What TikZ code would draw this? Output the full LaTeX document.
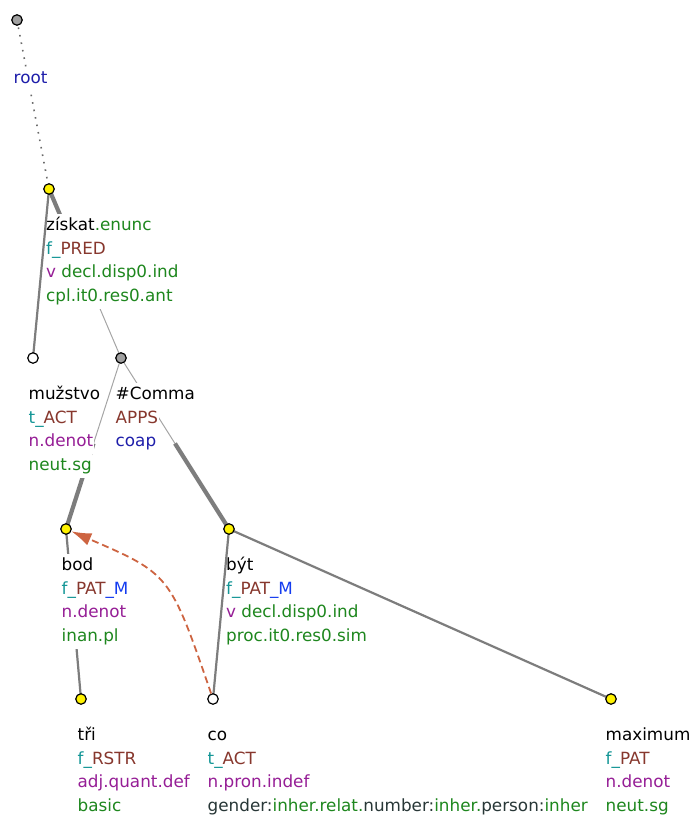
\documentclass[tikz,border=0pt]{standalone}
\usepackage{fontspec}
\setmainfont{DejaVu Sans}
\usetikzlibrary{arrows.meta,calc}
\definecolor{cGreen}{RGB}{30,135,30}
\definecolor{cTeal}{RGB}{20,150,150}
\definecolor{cBrown}{RGB}{135,55,45}
\definecolor{cBlue}{RGB}{20,60,240}
\definecolor{cPurp}{RGB}{150,30,150}
\definecolor{cNavy}{RGB}{30,30,170}
\definecolor{cDark}{RGB}{40,55,55}
\definecolor{cEdge}{RGB}{125,125,125}
\definecolor{cDot}{RGB}{105,105,105}
\definecolor{cThin}{RGB}{165,165,165}
\definecolor{cGray}{RGB}{160,160,160}
\definecolor{cCoref}{RGB}{205,100,65}
\newcommand{\fpre}{\textcolor{cTeal}{f\_}}
\newcommand{\tpre}{\textcolor{cTeal}{t\_}}
\newcommand{\fun}[1]{\textcolor{cBrown}{#1}}
\newcommand{\grm}[1]{\textcolor{cGreen}{#1}}
\newcommand{\sem}[1]{\textcolor{cPurp}{#1}}
\newcommand{\memb}{\textcolor{cBlue}{\_M}}
\tikzset{
  x=1pt, y=-1pt,
  lbl/.style={anchor=base west, fill=white, inner xsep=0.5pt, inner ysep=0pt,
    text height=16.5pt, text depth=7.2pt, font=\fontsize{16.8}{20}\selectfont},
  tnode/.style={circle, draw=black, line width=1.2pt, minimum size=10.5pt, inner sep=0pt},
  ynode/.style={tnode, fill=yellow},
  wnode/.style={tnode, fill=white},
  gnode/.style={tnode, fill=cGray},
  edge/.style={cEdge, line width=2.2pt},
  thickhalf/.style={cEdge, line width=4.2pt},
  thinhalf/.style={cThin, line width=1pt},
  rootedge/.style={cDot, line width=1.6pt, dash pattern=on 1.6pt off 6pt},
  coref/.style={cCoref, line width=1.8pt, dash pattern=on 7pt off 4pt,
    -{Latex[length=20pt,width=13pt]}},
}
\begin{document}
\begin{tikzpicture}
\useasboundingbox (0,0) rectangle (689,816);
% tree node positions
\coordinate (root) at (17,20);
\coordinate (zi) at (49,189);
\coordinate (mu) at (33,358);
\coordinate (cm) at (121,358);
\coordinate (bod) at (66,529);
\coordinate (byt) at (229,529);
\coordinate (tri) at (81,699);
\coordinate (co) at (213,699);
\coordinate (max) at (611,699);
\coordinate (mA) at ($(zi)!0.5!(cm)$);
\coordinate (mB) at ($(cm)!0.5!(bod)$);
\coordinate (mC) at ($(cm)!0.5!(byt)$);
% edges hidden behind labels
\draw[rootedge] (root) -- (zi);
\draw[thickhalf] (zi) -- (mA);
\draw[thinhalf] (mA) -- (cm);
\draw[thinhalf] (cm) -- (mB);
\draw[thickhalf] (mB) -- (bod);
\draw[thinhalf] (cm) -- (mC);
\draw[thickhalf] (mC) -- (byt);
\draw[edge] (bod) -- (tri);
% labels
\node[lbl] (rL) at (13,84) {\textcolor{cNavy}{root}};
\node[lbl] (zA) at (45.5,230.5) {získat\grm{.enunc}};
\node[lbl] (zB) at (45.5,254.2) {\fpre\fun{PRED}};
\node[lbl] (zC) at (45.5,277.9) {\sem{v} \grm{decl.disp0.ind}};
\node[lbl] (zD) at (45.5,301.6) {\grm{cpl.it0.res0.ant}};
\node[lbl] (muA) at (28,399.5) {mužstvo};
\node[lbl] (muB) at (28,423.2) {\tpre\fun{ACT}};
\node[lbl] (muC) at (28,446.9) {\sem{n.denot}};
\node[lbl] (muD) at (28,470.6) {\grm{neut.sg}};
\node[lbl] (cmA) at (115,399.5) {\#Comma};
\node[lbl] (cmB) at (115,423.2) {\fun{APPS}};
\node[lbl] (cmC) at (115,446.9) {\textcolor{cNavy}{coap}};
\node[lbl] (bA) at (61,570.5) {bod};
\node[lbl] (bB) at (61,594.2) {\fpre\fun{PAT}\memb};
\node[lbl] (bC) at (61,617.9) {\sem{n.denot}};
\node[lbl] (bD) at (61,641.6) {\grm{inan.pl}};
\node[lbl] (yA) at (225.5,570.5) {být};
\node[lbl] (yB) at (225.5,594.2) {\fpre\fun{PAT}\memb};
\node[lbl] (yC) at (225.5,617.9) {\sem{v} \grm{decl.disp0.ind}};
\node[lbl] (yD) at (225.5,641.6) {\grm{proc.it0.res0.sim}};
\node[lbl] (tA) at (77,740.5) {tři};
\node[lbl] (tB) at (77,764.2) {\fpre\fun{RSTR}};
\node[lbl] (tC) at (77,787.9) {\sem{adj.quant.def}};
\node[lbl] (tD) at (77,811.6) {\grm{basic}};
\node[lbl] (cA) at (207,740.5) {co};
\node[lbl] (cB) at (207,764.2) {\tpre\fun{ACT}};
\node[lbl] (cC) at (207,787.9) {\sem{n.pron.indef}};
\node[lbl] (cD) at (207,811.6) {\textcolor{cDark}{gender:}\grm{inher.relat.}\textcolor{cDark}{number:}\grm{inher.}\textcolor{cDark}{person:}\grm{inher}};
\node[lbl] (xA) at (605,740.5) {maximum};
\node[lbl] (xB) at (605,764.2) {\fpre\fun{PAT}};
\node[lbl] (xC) at (605,787.9) {\sem{n.denot}};
\node[lbl] (xD) at (605,811.6) {\grm{neut.sg}};
% visible edges
\draw[edge] (zi) -- (mu);
\draw[edge] (byt) -- (co);
\draw[edge] (byt) -- (max);
% tree nodes
\node[gnode] (nroot) at (root) {};
\node[ynode] (nzi) at (zi) {};
\node[wnode] (nmu) at (mu) {};
\node[gnode] (ncm) at (cm) {};
\node[ynode] (nbod) at (bod) {};
\node[ynode] (nbyt) at (byt) {};
\node[ynode] (ntri) at (tri) {};
\node[wnode] (nco) at (co) {};
\node[ynode] (nmax) at (max) {};
% coreference arrow
\draw[coref] (nco) .. controls (170,574) .. (nbod);
\end{tikzpicture}
\end{document}
